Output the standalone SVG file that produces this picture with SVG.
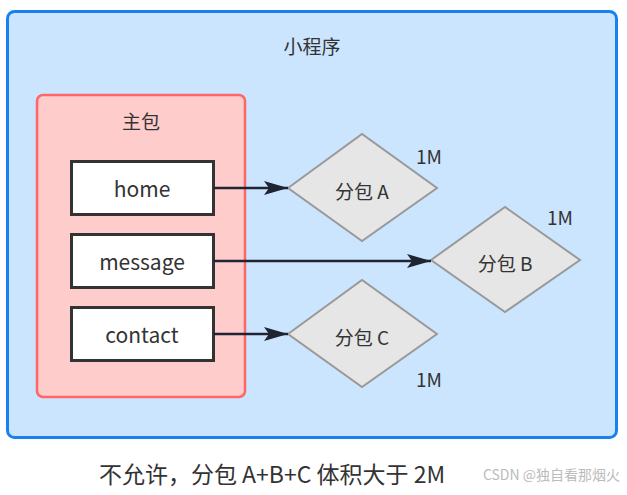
<svg xmlns="http://www.w3.org/2000/svg" width="627" height="495" viewBox="0 0 627 495">
<defs>
<style>
.t{font-family:"Noto Sans CJK SC","Liberation Sans",sans-serif;fill:#333;text-anchor:middle;dominant-baseline:central}
.page{fill:#ffffff;stroke:#333;stroke-width:3}
.dia{fill:#e6e6e6;stroke:#999;stroke-width:2}
.edge{stroke:#1f2433;stroke-width:2.5;fill:none;marker-end:url(#ah)}
</style>
<marker id="ah" viewBox="0 0 24 14" refX="24" refY="7" markerWidth="24" markerHeight="14" markerUnits="userSpaceOnUse" orient="auto">
<path d="M0,0 L24,7 L0,14 L5,7 Z" fill="#1f2433"/>
</marker>
</defs>
<rect width="627" height="495" fill="#ffffff"/>
<g id="miniprogram">
<rect x="7.5" y="11.5" width="609" height="426" rx="7" fill="#cce5ff" stroke="#1a7ff0" stroke-width="3"/>
<text class="t" x="312" y="45" font-size="19">小程序</text>
</g>
<g id="mainpkg">
<rect x="37" y="95" width="208" height="302" rx="6" fill="#ffcccc" stroke="#ff6666" stroke-width="2.5"/>
<text class="t" x="141" y="120" font-size="19">主包</text>
</g>
<g id="home">
<rect class="page" x="71.5" y="161.5" width="142" height="53"/>
<text class="t" x="142" y="188" font-size="21">home</text>
</g>
<g id="message">
<rect class="page" x="71.5" y="234.5" width="142" height="53"/>
<text class="t" x="142" y="261" font-size="21">message</text>
</g>
<g id="contact">
<rect class="page" x="71.5" y="307.5" width="142" height="53"/>
<text class="t" x="142" y="334" font-size="21">contact</text>
</g>
<g id="subA">
<polygon class="dia" points="288,188 362,134 437,188 362,241"/>
<text class="t" x="362" y="190" font-size="19">分包 A</text>
<text class="t" x="429" y="155" font-size="19">1M</text>
</g>
<g id="subB">
<polygon class="dia" points="431,260 505,207 580,260 505,312"/>
<text class="t" x="505" y="262" font-size="19">分包 B</text>
<text class="t" x="560" y="216" font-size="19">1M</text>
</g>
<g id="subC">
<polygon class="dia" points="288,334 362,280 437,334 362,387"/>
<text class="t" x="362" y="336" font-size="19">分包 C</text>
<text class="t" x="429" y="378" font-size="19">1M</text>
</g>
<g id="connectors">
<path class="edge" d="M214,188 L288,188"/>
<path class="edge" d="M214,261 L431,261"/>
<path class="edge" d="M214,334 L288,334"/>
</g>
<g id="caption">
<text class="t" x="272" y="473" font-size="23">不允许，分包 A+B+C 体积大于 2M</text>
<text x="620" y="474" font-size="14" fill="#bbbbbb" text-anchor="end" dominant-baseline="central" font-family="Noto Sans CJK SC, Liberation Sans, sans-serif">CSDN @独自看那烟火</text>
</g>
</svg>
